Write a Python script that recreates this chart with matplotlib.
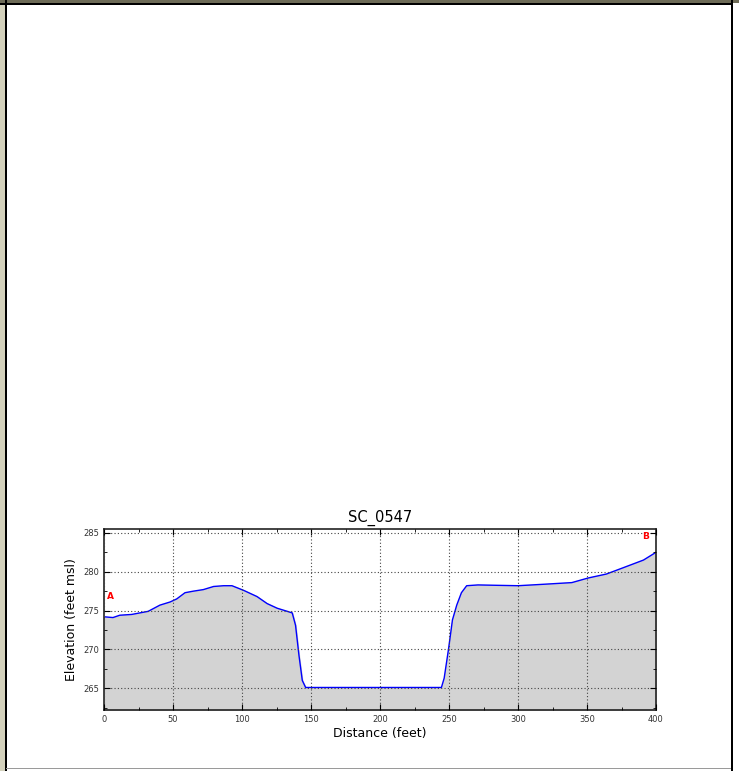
import matplotlib
matplotlib.use('Agg')
from matplotlib import pyplot as plt
from matplotlib.patches import Rectangle
from matplotlib.ticker import MultipleLocator

# profile SC_0547
distance = [0, 6.5, 11.4, 20, 32, 40.5, 47.8, 52.7, 58.7, 64.8, 72, 79.4, 86.7, 92.7,
            101.2, 110.9, 118.2, 125.5, 132.8, 136.4, 138.8, 141.3, 143.7, 146.1,
            200, 244.5, 246.5, 249.7, 252.5, 255.6, 259, 262.8, 271, 285, 300.2,
            320, 339, 351, 364, 376, 390.9, 400]
elevation = [274.2, 274.1, 274.4, 274.5, 274.9, 275.7, 276.1, 276.5, 277.3, 277.5,
             277.7, 278.1, 278.2, 278.2, 277.6, 276.8, 275.9, 275.3, 274.9, 274.7,
             273.1, 269.2, 266.0, 265.1, 265.1, 265.1, 266.3, 270.1, 273.8, 275.7,
             277.3, 278.2, 278.3, 278.25, 278.2, 278.4, 278.6, 279.2, 279.7, 280.5,
             281.5, 282.5]
x_ticks = [0, 50, 100, 150, 200, 250, 300, 350, 400]
y_ticks = [265, 270, 275, 280, 285]
ymin, ymax = 262.2, 285.5

W, H = 739, 771
fig = plt.figure(figsize=(W / 100, H / 100), dpi=100)
fig.patch.set_facecolor('white')

# screenshot frame around the figure
def px_rect(x0, y0, w, h, color):
    fig.add_artist(Rectangle((x0 / W, 1 - (y0 + h) / H), w / W, h / H,
                             transform=fig.transFigure, color=color, lw=0, zorder=5))

px_rect(0, 0, 4.5, H, '#d3d1bc')
px_rect(0, 0, W, 3, '#6d6b57')
px_rect(4.5, 0, 2, H, 'black')
px_rect(0, 3, 733, 2, 'black')
px_rect(730.5, 0, 2.5, H, 'black')
px_rect(6, 767.5, 725, 1.5, '#9a9a9a')

ax = fig.add_axes([104 / W, 1 - 710 / H, 552 / W, 181 / H])
ax.fill_between(distance, elevation, ymin, color='lightgray', zorder=1)
ax.plot(distance, elevation, color='blue', lw=1, zorder=2)

ax.text(4.8, 276.8, 'A', color='red', fontsize=6.5, fontweight='bold', ha='center', va='center')
ax.text(392.5, 284.5, 'B', color='red', fontsize=6.5, fontweight='bold', ha='center', va='center')

ax.set_xlim(0, 400)
ax.set_ylim(ymin, ymax)
ax.set_xticks(x_ticks)
ax.set_yticks(y_ticks)
ax.xaxis.set_minor_locator(MultipleLocator(25))
ax.yaxis.set_minor_locator(MultipleLocator(2.5))
ax.tick_params(axis='both', which='both', direction='in', labelsize=6, top=True, right=True,
               labelcolor='#333333')
ax.tick_params(which='major', length=4)
ax.tick_params(which='minor', length=2)
ax.grid(True, which='major', linestyle=(0, (1, 2)), color='#444444', lw=0.8)
ax.set_axisbelow(False)
for s in ax.spines.values():
    s.set_linewidth(1.2)
    s.set_color('#222222')

ax.set_title('SC_0547', fontsize=10.5, pad=5)
ax.set_xlabel('Distance (feet)', fontsize=9, labelpad=2)
ax.set_ylabel('Elevation (feet msl)', fontsize=9, labelpad=4)

fig.savefig('out.png', dpi=100)
